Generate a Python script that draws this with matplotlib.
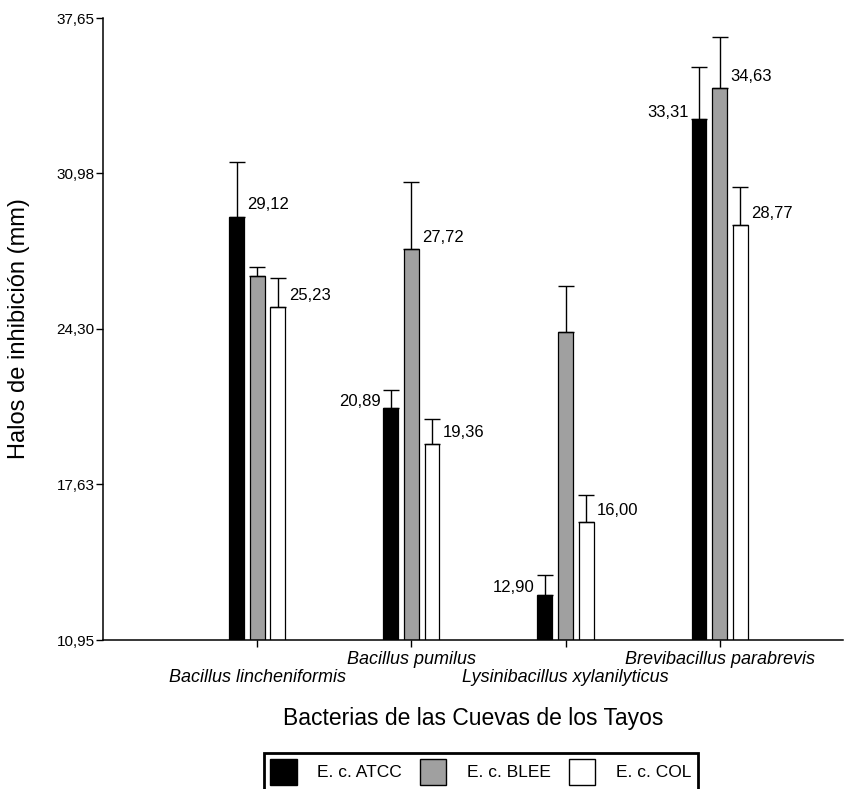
import matplotlib
matplotlib.use("Agg")
import matplotlib.pyplot as plt
from matplotlib.patches import Patch
import numpy as np

plt.rcParams['font.family'] = ['Liberation Sans', 'DejaVu Sans']

# ===== datos =====
bacterias = ["Bacillus lincheniformis", "Bacillus pumilus",
             "Lysinibacillus xylanilyticus", "Brevibacillus parabrevis"]
series = ["E. c. ATCC", "E. c. BLEE", "E. c. COL"]

atcc = [29.12, 20.89, 12.90, 33.31]
blee = [26.59, 27.72, 24.19, 34.63]
col = [25.23, 19.36, 16.00, 28.77]

atcc_err = [2.36, 0.79, 0.84, 2.22]
blee_err = [0.39, 2.88, 1.97, 2.22]
col_err = [1.27, 1.09, 1.18, 1.64]

# lado de la etiqueta de valor (r = derecha, l = izquierda, None = sin etiqueta)
atcc_lab = ["r", "l", "l", "l"]
blee_lab = [None, "r", None, "r"]
col_lab = ["r", "r", "r", "r"]

yticks = [10.95, 17.63, 24.30, 30.98, 37.65]

colors = ["#000000", "#a0a0a0", "#ffffff"]

fig = plt.figure(figsize=(8.63, 7.89), dpi=100)
ax = fig.add_axes([103 / 863, 1 - 640 / 789, 740 / 863, 622 / 789])

x = np.arange(len(bacterias))
w = 0.097
off = 0.134

all_vals = [atcc, blee, col]
all_err = [atcc_err, blee_err, col_err]
all_lab = [atcc_lab, blee_lab, col_lab]

for i, (vals, errs, labs) in enumerate(zip(all_vals, all_err, all_lab)):
    pos = x + (i - 1) * off
    ax.bar(pos, vals, width=w, color=colors[i], edgecolor="black",
           linewidth=0.9, zorder=2)
    ax.errorbar(pos, vals, yerr=[np.zeros(len(vals)), errs], fmt="none",
                ecolor="black", elinewidth=1.0, capsize=5.5, capthick=1.0,
                zorder=3)
    for p, v, side in zip(pos, vals, labs):
        if side is None:
            continue
        txt = f"{v:.2f}".replace(".", ",")
        if side == "r":
            ax.annotate(txt, (p + w / 2, v), xytext=(2.5, 8.5),
                        textcoords="offset points", ha="left", va="center",
                        fontsize=12)
        else:
            ax.annotate(txt, (p - w / 2, v), xytext=(-2, 5),
                        textcoords="offset points", ha="right", va="center",
                        fontsize=12)

ax.set_xlim(-1.0, 3.8)
ax.set_ylim(yticks[0], yticks[-1])
ax.set_yticks(yticks)
ax.set_yticklabels([f"{t:.2f}".replace(".", ",") for t in yticks], fontsize=11)

ax.set_xticks(x)
ax.set_xticklabels(bacterias, fontsize=13, style="italic")
for k, tick in enumerate(ax.xaxis.get_major_ticks()):
    tick.set_pad(3 if k % 2 else 16)

ax.spines["top"].set_visible(False)
ax.spines["right"].set_visible(False)
ax.spines["left"].set_linewidth(1.1)
ax.spines["bottom"].set_linewidth(1.1)
ax.tick_params(axis="both", direction="out", length=5, width=1.0)
ax.tick_params(axis="y", pad=1)

ax.set_ylabel("Halos de inhibición (mm)", fontsize=17)
ax.yaxis.set_label_coords(-0.098, 0.5)
ax.set_xlabel("Bacterias de las Cuevas de los Tayos", fontsize=16.5)
ax.xaxis.set_label_coords(0.5, -0.108)

handles = [Patch(facecolor=c, edgecolor="black", linewidth=1.0) for c in colors]
leg = fig.legend(handles, series, loc="lower center",
                 bbox_to_anchor=(0.557, -0.002), ncol=3, fontsize=12.5,
                 frameon=True, fancybox=False, edgecolor="black",
                 framealpha=1, handlelength=1.55, handleheight=1.9,
                 handletextpad=1.2, columnspacing=1.0, borderpad=0.35,
                 borderaxespad=0)
leg.get_frame().set_linewidth(2)

fig.savefig("out.png", dpi=100)
